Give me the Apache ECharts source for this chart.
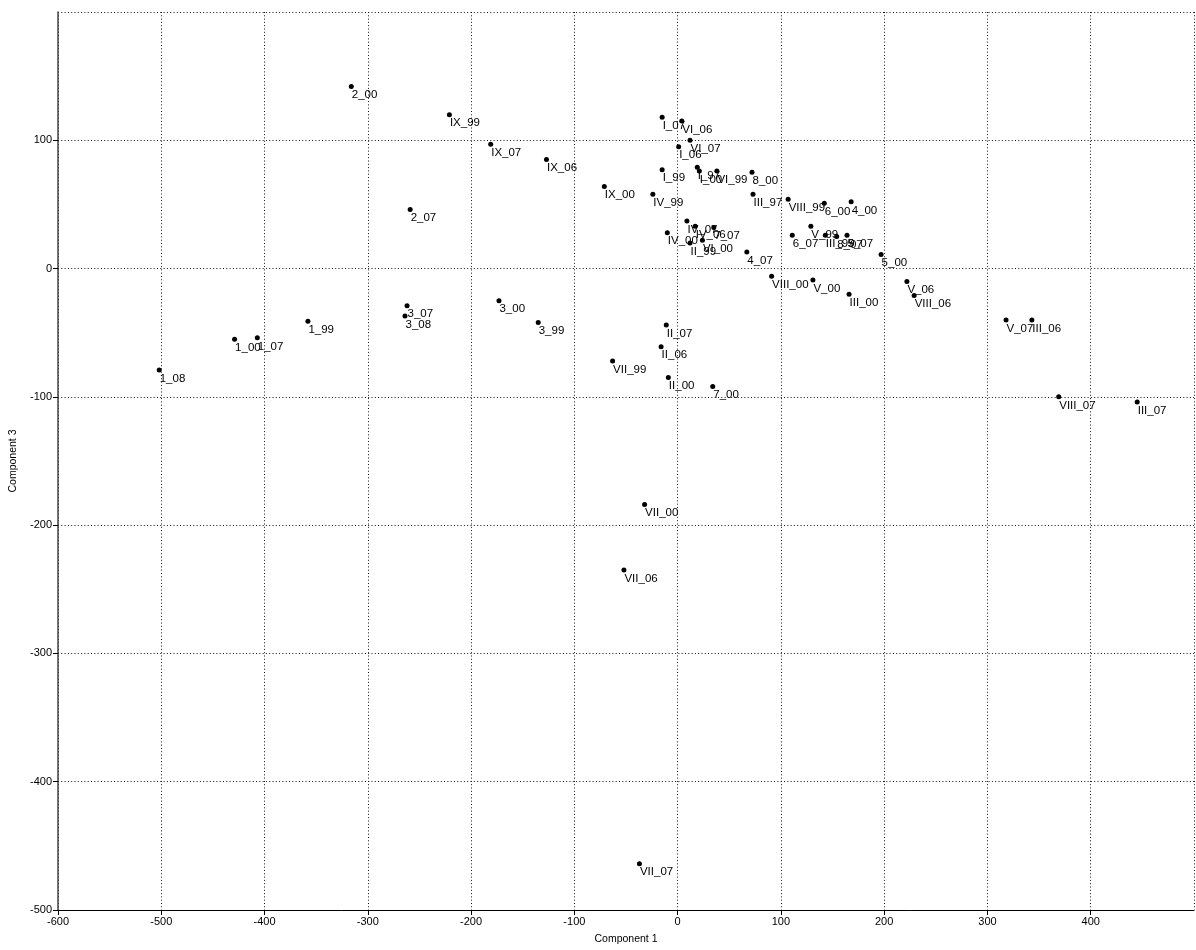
<!DOCTYPE html>
<html>
<head>
<meta charset="utf-8">
<title>Component 1 vs Component 3</title>
<script src="https://cdn.jsdelivr.net/npm/echarts@6/dist/echarts.min.js"></script>
<style>
  html, body { margin: 0; padding: 0; background: #fff; }
  #chart { width: 1196px; height: 950px; }
</style>
</head>
<body>
<div id="chart"></div>
<script>
// Sample labels and their scores on component 1 (x) and component 3 (y)
const labels = [
  '2_00', 'IX_99', 'IX_07', 'IX_06', 'IX_00', '2_07',
  '3_07', '3_08', '3_00', '3_99',
  '1_08', '1_00', '1_07', '1_99',
  'I_07', 'VI_06', 'VI_07', 'I_06', 'I_99', 'I_97', 'I_00', 'VI_99', '8_00',
  'IV_99', 'III_97', 'IV_07', 'IV_06', '7_07', 'IV_00', 'II_99', 'VI_00', '4_07',
  'VIII_99', '6_00', '4_00', 'V_99', '6_07', 'III_99', '8_07', '5_07',
  '5_00', 'VIII_00', 'V_00', 'III_00', 'V_06', 'VIII_06',
  'V_07', 'III_06', 'VIII_07', 'III_07',
  'II_07', 'II_06', 'VII_99', 'II_00', '7_00',
  'VII_00', 'VII_06', 'VII_07'
];
const comp1 = [
  -316, -221, -181, -127, -71, -259,
  -262, -264, -173, -135,
  -502, -429, -407, -358,
  -15, 4, 12, 1, -15, 19, 21, 38, 72,
  -24, 73, 9, 17, 35, -10, 12, 24, 67,
  107, 142, 168, 129, 111, 143, 154, 164,
  197, 91, 131, 166, 222, 229,
  318, 343, 369, 445,
  -11, -16, -63, -9, 34,
  -32, -52, -37
];
const comp3 = [
  142, 120, 97, 85, 64, 46,
  -29, -37, -25, -42,
  -79, -55, -54, -41,
  118, 115, 100, 95, 77, 79, 76, 76, 75,
  58, 58, 37, 33, 32, 28, 20, 22, 13,
  54, 51, 52, 33, 26, 26, 25, 26,
  11, -6, -9, -20, -10, -21,
  -40, -40, -100, -104,
  -44, -61, -72, -85, -92,
  -184, -235, -464
];

// Axis ranges and tick spacing
const xRange = { min: -600, max: 500, step: 100 };
const yRange = { min: -500, max: 200, step: 100 };
const xTitle = 'Component 1';
const yTitle = 'Component 3';

const points = labels.map((name, i) => ({ name, value: [comp1[i], comp3[i]] }));

const chart = echarts.init(document.getElementById('chart'), null, { renderer: 'canvas' });

const font = 'Liberation Sans, Arial, sans-serif';
const dotted = { color: '#111', width: 1, type: [1, 2.3] };
const axisText = { color: '#000', fontSize: 11, fontFamily: font };

chart.setOption({
  animation: false,
  backgroundColor: '#fff',
  grid: { left: 58, right: 2, top: 12, bottom: 39, containLabel: false },
  xAxis: {
    type: 'value',
    min: xRange.min, max: xRange.max, interval: xRange.step,
    name: xTitle, nameLocation: 'middle', nameGap: 24,
    nameTextStyle: { color: '#000', fontSize: 10.5, fontFamily: font },
    axisLine: { show: true, onZero: false, lineStyle: { color: '#000', width: 1 } },
    axisTick: { show: true, inside: false, length: 5, lineStyle: { color: '#000' } },
    axisLabel: { ...axisText, margin: 6, showMaxLabel: false },
    splitLine: { show: true, lineStyle: dotted }
  },
  yAxis: {
    type: 'value',
    min: yRange.min, max: yRange.max, interval: yRange.step,
    name: yTitle, nameLocation: 'middle', nameGap: 36, nameRotate: 90,
    nameTextStyle: { color: '#000', fontSize: 10.5, fontFamily: font },
    axisLine: { show: true, onZero: false, lineStyle: { color: '#444', width: 1.5 } },
    axisTick: { show: true, inside: false, length: 5, lineStyle: { color: '#000' } },
    axisLabel: { ...axisText, margin: 6, showMaxLabel: false },
    splitLine: { show: true, lineStyle: dotted }
  },
  series: [{
    type: 'scatter',
    data: points,
    symbol: 'circle',
    symbolSize: 5,
    itemStyle: { color: '#000', opacity: 1 },
    label: {
      show: true,
      formatter: p => p.name,
      position: [3, 5],
      align: 'left',
      verticalAlign: 'top',
      color: '#000',
      fontSize: 11.5,
      fontFamily: font
    },
    labelLayout: { hideOverlap: false },
    emphasis: { disabled: true }
  }]
});
</script>
</body>
</html>
